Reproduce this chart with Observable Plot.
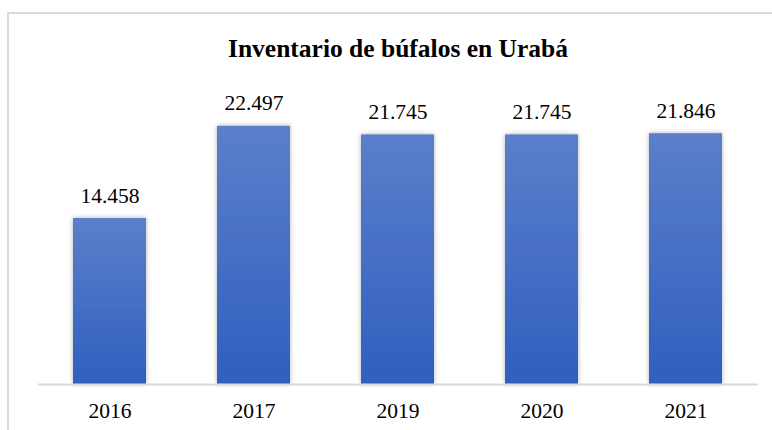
<!DOCTYPE html>
<html>
<head>
<meta charset="utf-8">
<script src="https://cdn.jsdelivr.net/npm/d3@7"></script>
<script src="https://cdn.jsdelivr.net/npm/@observablehq/plot@0.6"></script>
<style>
  html, body { margin: 0; padding: 0; background: #fff; overflow: hidden; }
  #wrap { position: relative; width: 772px; height: 430px; overflow: hidden; font-family: "Liberation Serif", "Times New Roman", Times, "DejaVu Serif", serif; }
  #frame { position: absolute; left: 7px; top: 12px; width: 900px; height: 600px; border-top: 2px solid #d9d9d9; border-left: 2px solid #d9d9d9; }
  #title { position: absolute; left: 8px; width: 780px; top: 35.5px; text-align: center; font-size: 25.5px; font-weight: bold; line-height: 1; color: #000; font-family: "Liberation Serif", "Times New Roman", Times, "DejaVu Serif", serif; }
  #chart { position: absolute; left: 0; top: 70px; }
  #chart svg, #chart svg text { font-family: "Liberation Serif", "Times New Roman", Times, "DejaVu Serif", serif !important; }
</style>
</head>
<body>
<div id="wrap">
  <div id="frame"></div>
  <div id="title">Inventario de búfalos en Urabá</div>
  <div id="chart"></div>
</div>
<script>
const years = ["2016", "2017", "2019", "2020", "2021"];
const values = [14458, 22497, 21745, 21745, 21846];

const data = years.map((y, i) => ({year: y, value: values[i]}));
const fmt = d3.formatLocale({decimal: ",", thousands: ".", grouping: [3], currency: ["", ""]}).format(",d");
const serif = "Liberation Serif, Times New Roman, serif";

const plot = Plot.plot({
  width: 772,
  height: 360,
  marginLeft: 38,
  marginRight: 14,
  marginTop: 27,
  marginBottom: 46,
  style: {fontFamily: serif, fontSize: "21.5px", color: "#000", background: "transparent", overflow: "visible"},
  x: {domain: years, paddingInner: 0.49, paddingOuter: 0.245, label: null},
  y: {domain: [0, 25000], axis: null},
  marks: [
    Plot.barY(data, {x: "year", y: "value", fill: "url(#barGrad)"}),
    Plot.ruleY([0], {stroke: "#d9d9d9", strokeWidth: 2}),
    Plot.text(data, {x: "year", y: "value", text: d => fmt(d.value), lineAnchor: "bottom", dy: -16, fill: "#000", fontSize: 21.5, fontFamily: serif}),
    Plot.axisX({tickSize: 0, tickPadding: 18, fontSize: 21.5, fill: "#000", fontFamily: serif, label: null})
  ]
});

const svg = d3.select(plot);
const defs = svg.insert("defs", ":first-child");
const grad = defs.append("linearGradient").attr("id", "barGrad").attr("x1", 0).attr("y1", 0).attr("x2", 0).attr("y2", 1);
grad.append("stop").attr("offset", "0%").attr("stop-color", "#5b7fca");
grad.append("stop").attr("offset", "100%").attr("stop-color", "#2f5fbf");
const sh = defs.append("filter").attr("id", "barShadow").attr("x", "-20%").attr("y", "-10%").attr("width", "140%").attr("height", "120%");
sh.append("feDropShadow").attr("dx", 0).attr("dy", 0).attr("stdDeviation", 2.5).attr("flood-color", "#000").attr("flood-opacity", 0.3);
svg.selectAll("g[aria-label='bar'] rect").attr("filter", "url(#barShadow)");

document.getElementById("chart").appendChild(plot);
</script>
</body>
</html>
